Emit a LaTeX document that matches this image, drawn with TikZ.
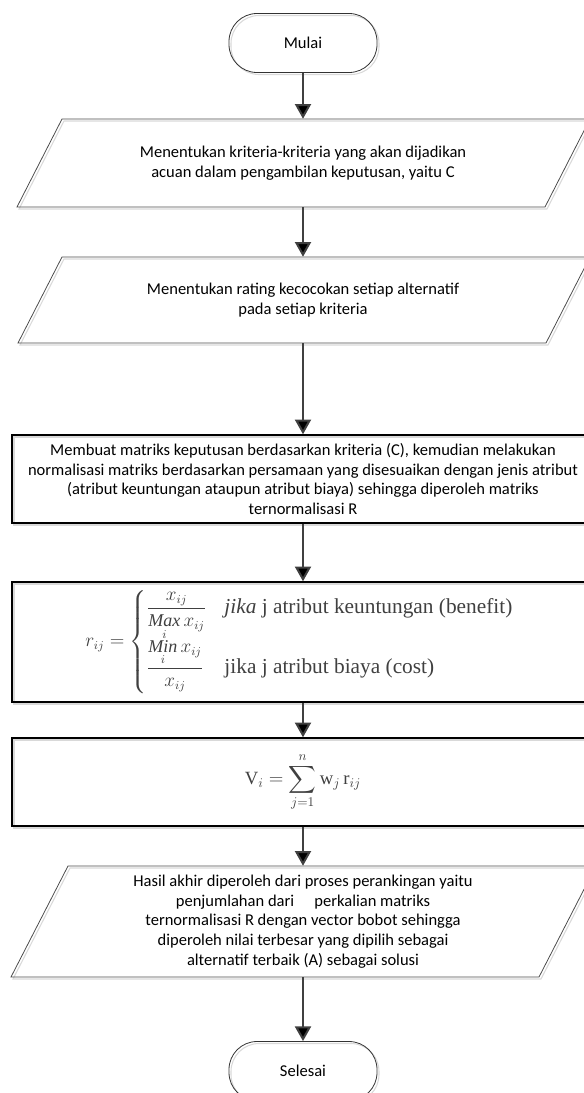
\documentclass[tikz,border=0pt]{standalone}
\usepackage{amsmath}
\usepackage{fontspec}
\setmainfont{Carlito}
\newfontfamily\rumusfont{Liberation Serif}
\usetikzlibrary{arrows.meta,calc}
\tikzset{
>={Triangle[length=11pt,width=12pt]},
bayang/.style={draw=black!15,line width=0.8pt,transform canvas={shift={(1.5pt,-1.5pt)}}},
terminal node/.style={draw=black!80,line width=0.6pt,rounded corners=21pt,minimum width=111pt,minimum height=44.25pt,preaction={bayang}},
data node/.style={align=center,inner sep=0pt},
proses node/.style={draw,line width=1.1pt,minimum width=436.5pt,align=center,preaction={bayang}},
garis data/.style={draw=black!70,line width=0.6pt,preaction={bayang}},
rumus/.style={text=black!75,font=\rumusfont\fontsize{13.5}{16}\selectfont},
panah/.style={->,draw=black!75,line width=1.5pt}}
\newcommand{\ketrumus}[1]{\text{\fontsize{16}{18}\selectfont #1}}

\begin{document}
\begin{tikzpicture}[x=0.75pt,y=-0.75pt,font=\fontsize{12.4}{14.8}\selectfont]
\useasboundingbox (0,0) rectangle (584,1093);

\draw[garis data] (62,119) -- (590,119) -- (545,207) -- (17,207) -- cycle;
\draw[garis data] (62,257) -- (590,257) -- (546,343) -- (18,343) -- cycle;
\draw[garis data] (68,866) -- (596,866) -- (539,977) -- (11,977) -- cycle;

\node[terminal node] (1) at (303,43) {Mulai};
\node[data node,minimum height=66pt] (2) at (303,163) {Menentukan kriteria-kriteria yang akan dijadikan\\acuan dalam pengambilan keputusan, yaitu C};
\node[data node,minimum height=64.5pt] (3) at (303,300) {Menentukan rating kecocokan setiap alternatif\\pada setiap kriteria};
\node[proses node,minimum height=66pt] (4) at (303,479) {Membuat matriks keputusan berdasarkan kriteria (C), kemudian melakukan\\normalisasi matriks berdasarkan persamaan yang disesuaikan dengan jenis atribut\\(atribut keuntungan ataupun atribut biaya) sehingga diperoleh matriks\\ternormalisasi R};
\node[proses node,minimum height=90pt,rumus] (5) at (303,642) {$r_{ij}=\left\{\begin{array}{@{}l@{\quad}l}
\dfrac{x_{ij}}{\mathop{\text{\itshape Max}}\limits_{i} x_{ij}} & \ketrumus{\itshape jika\ \upshape j atribut keuntungan (benefit)}\\[8pt]
\dfrac{\mathop{\text{\itshape Min}}\limits_{i} x_{ij}}{x_{ij}} & \ketrumus{jika j atribut biaya (cost)}
\end{array}\right.$};
\node[proses node,minimum height=66pt,rumus,font=\rumusfont\fontsize{14}{16}\selectfont] (6) at (303,782) {$\displaystyle \text{V}_i=\sum_{j=1}^{n}\text{w}_j\,\text{r}_{ij}$};
\node[data node,minimum height=83.25pt] (7) at (303,921.5) {Hasil akhir diperoleh dari proses perankingan yaitu\\penjumlahan dari\quad\ perkalian matriks\\ternormalisasi R dengan vector bobot sehingga\\diperoleh nilai terbesar yang dipilih sebagai\\alternatif terbaik (A) sebagai solusi};
\node[terminal node] (8) at (303,1071) {Selesai};

\path[panah] (1) edge (2);
\path[panah] (2) edge (3);
\path[panah] (3) edge (4);
\path[panah] (4) edge (5);
\path[panah] (5) edge (6);
\path[panah] (6) edge (7);
\path[panah] (7) edge (8);

\end{tikzpicture}
\end{document}
